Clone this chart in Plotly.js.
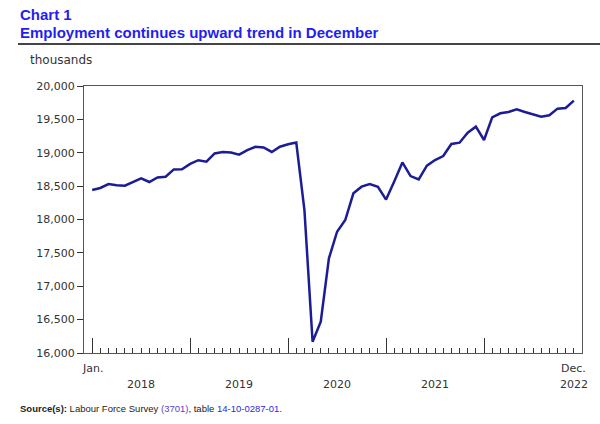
<!DOCTYPE html>
<html>
<head>
<meta charset="utf-8">
<script src="https://cdn.plot.ly/plotly-3.0.1.min.js"></script>
<style>html,body{margin:0;padding:0;background:#fff;}#chart{width:600px;height:424px;}</style>
</head>
<body>
<div id="chart"></div>
<script>
// ---- data (thousands of persons employed, monthly Jan 2018 - Dec 2022) ----
var years = ["2018", "2019", "2020", "2021", "2022"];
var months = ["Jan.", "Feb.", "Mar.", "Apr.", "May", "Jun.", "Jul.", "Aug.", "Sep.", "Oct.", "Nov.", "Dec."];
var emp2018 = [18442, 18472, 18530, 18512, 18506, 18557, 18617, 18562, 18630, 18641, 18750, 18752];
var emp2019 = [18832, 18888, 18866, 18990, 19010, 19004, 18972, 19040, 19090, 19080, 19012, 19090];
var emp2020 = [19128, 19152, 18142, 16169, 16469, 17418, 17817, 17992, 18392, 18492, 18532, 18490];
var emp2021 = [18298, 18570, 18855, 18651, 18600, 18806, 18891, 18951, 19131, 19151, 19301, 19391];
var emp2022 = [19191, 19531, 19591, 19611, 19651, 19611, 19581, 19541, 19561, 19661, 19671, 19781];
var yTickVals = [16000, 16500, 17000, 17500, 18000, 18500, 19000, 19500, 20000];

var values = [].concat(emp2018, emp2019, emp2020, emp2021, emp2022);
var labels = [];
years.forEach(function (y) { months.forEach(function (m) { labels.push(m + " " + y); }); });
var idx = values.map(function (v, i) { return i; });

// plot area in pixels
var W = 600, H = 424, L = 84, R = 18, T = 86, B = 71;
var pw = W - L - R, ph = H - T - B;
function px(x) { return (x - L) / pw; }
function py(y) { return (H - B - y) / ph; }

var font = "Verdana, 'DejaVu Sans', sans-serif";
var n = values.length;

var yearAnn = years.map(function (y, k) {
  var xi = (k < years.length - 1) ? k * 12 + 6 : n - 1;
  return { xref: "x", yref: "paper", x: xi, y: py(384), text: y, showarrow: false,
           font: { family: font, size: 11, color: "#333" }, xanchor: "center", yanchor: "middle" };
});

var annotations = [
  { xref: "paper", yref: "paper", x: px(18), y: py(14), text: "<b>Chart 1</b>", showarrow: false,
    xanchor: "left", yanchor: "middle", font: { family: "Arial, 'Liberation Sans', sans-serif", size: 15, color: "#1f1ff2" } },
  { xref: "paper", yref: "paper", x: px(18), y: py(33), text: "<b>Employment continues upward trend in December</b>", showarrow: false,
    xanchor: "left", yanchor: "middle", font: { family: "Arial, 'Liberation Sans', sans-serif", size: 15, color: "#1f1ff2" } },
  { xref: "paper", yref: "paper", x: px(28), y: py(60), text: "thousands", showarrow: false,
    xanchor: "left", yanchor: "middle", font: { family: font, size: 12, color: "#333" } },
  { xref: "x", yref: "paper", x: 0, y: py(368), text: months[0], showarrow: false,
    xanchor: "center", yanchor: "middle", font: { family: font, size: 11, color: "#333" } },
  { xref: "x", yref: "paper", x: n - 1, y: py(368), text: months[11], showarrow: false,
    xanchor: "center", yanchor: "middle", font: { family: font, size: 11, color: "#333" } },
  { xref: "paper", yref: "paper", x: px(18), y: py(408),
    text: "<b>Source(s):</b> Labour Force Survey <span style='color:#5b45c8'>(3701)</span>, table <span style='color:#2a2ae6'>14-10-0287-01</span>.",
    showarrow: false, xanchor: "left", yanchor: "middle",
    font: { family: "Arial, 'Liberation Sans', sans-serif", size: 9.5, color: "#222" } }
].concat(yearAnn);

var trace = {
  x: idx, y: values, text: labels, type: "scatter", mode: "lines",
  line: { color: "#1c1c96", width: 2.5 },
  hovertemplate: "%{text}: %{y:,}<extra></extra>"
};

var layout = {
  width: W, height: H,
  margin: { l: L, r: R, t: T, b: B, pad: 0 },
  paper_bgcolor: "#fff", plot_bgcolor: "#fff",
  showlegend: false,
  font: { family: font, size: 11, color: "#333" },
  xaxis: {
    range: [-1, n], showgrid: false, zeroline: false,
    showline: true, linecolor: "#555", linewidth: 1, mirror: true,
    tickmode: "linear", tick0: 0, dtick: 12, ticks: "inside", ticklen: 15, tickcolor: "#333", tickwidth: 1,
    showticklabels: false,
    minor: { tickmode: "linear", tick0: 0, dtick: 1, ticks: "inside", ticklen: 5, tickcolor: "#333", tickwidth: 1, showgrid: false }
  },
  yaxis: {
    range: [16000, 20000], showgrid: false, zeroline: false,
    showline: true, linecolor: "#555", linewidth: 1, mirror: true,
    tickmode: "array", tickvals: yTickVals, tickformat: ",",
    ticks: "outside", ticklen: 6, tickcolor: "#333",
    tickfont: { family: font, size: 11, color: "#333" }
  },
  shapes: [
    { type: "line", xref: "paper", yref: "paper", x0: px(18), x1: px(600), y0: py(44), y1: py(44),
      line: { color: "#444", width: 2 } }
  ],
  annotations: annotations
};

Plotly.newPlot("chart", [trace], layout, { displayModeBar: false, staticPlot: true });
</script>
</body>
</html>
